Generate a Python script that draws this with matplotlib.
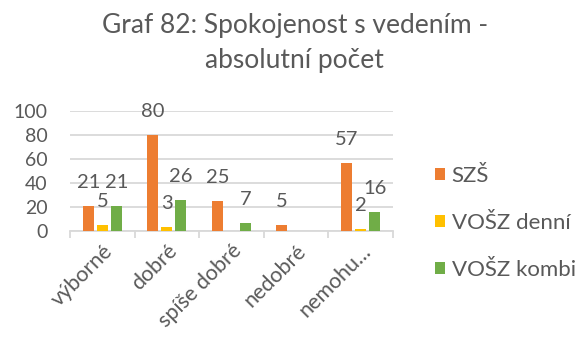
import matplotlib.pyplot as plt
import numpy as np

plt.rcParams['font.family'] = ['Lato', 'DejaVu Sans']

categories = ['výborné', 'dobré', 'spíše dobré', 'nedobré', 'nemohu...']
series_names = ['SZŠ', 'VOŠZ denní', 'VOŠZ kombi']
szs = [21, 80, 25, 5, 57]
vosz_denni = [5, 3, 0, 0, 2]
vosz_kombi = [21, 26, 7, 0, 16]
colors = ['#ED7D31', '#FFC000', '#70AD47']
text_color = '#595959'

fig = plt.figure(figsize=(5.76, 3.41), dpi=100)
ax = fig.add_axes([0.1215, 0.3226, 0.5605, 0.352])

x = np.arange(len(categories))
width = 0.17
offsets = [-0.217, 0, 0.217]
for vals, name, col, off in zip([szs, vosz_denni, vosz_kombi], series_names, colors, offsets):
    bars = ax.bar(x + off, vals, width, color=col, label=name, zorder=3)
    for b, v in zip(bars, vals):
        if v == 0:
            continue
        ax.annotate(str(v), (b.get_x() + b.get_width() / 2, v),
                    xytext=(0, 13), textcoords='offset points',
                    ha='center', va='baseline', fontsize=14.5, color=text_color)

ax.set_xlim(-0.5, len(categories) - 0.5)
ax.set_ylim(0, 100)
ax.set_yticks(range(0, 101, 20))
ax.yaxis.grid(True, color='#D9D9D9', linewidth=1.3, zorder=0)
ax.set_axisbelow(True)
for s in ['left', 'right', 'top']:
    ax.spines[s].set_visible(False)
ax.spines['bottom'].set_color('#D9D9D9')
ax.spines['bottom'].set_linewidth(1.3)
ax.tick_params(axis='y', length=0, labelsize=14, labelcolor=text_color, pad=16)

# category boundary ticks on the x axis
ax.set_xticks(np.arange(-0.5, len(categories), 1.0))
ax.set_xticklabels([])
ax.tick_params(axis='x', which='major', length=5, color='#D9D9D9', width=1.3)
ax.set_xticks(x, minor=True)
ax.set_xticklabels(categories, minor=True, rotation=45, ha='right',
                   rotation_mode='anchor', fontsize=15.5, color=text_color)
ax.tick_params(axis='x', which='minor', length=0, pad=7)

# two-line title
fig.text(0.512, 0.903, 'Graf 82: Spokojenost s vedením -', ha='center', va='baseline',
         fontsize=19, color=text_color)
fig.text(0.512, 0.801, 'absolutní počet', ha='center', va='baseline',
         fontsize=19, color=text_color)

ax.legend(loc='center left', bbox_to_anchor=(0.755, 0.346), bbox_transform=fig.transFigure,
          frameon=False, fontsize=16, labelcolor=text_color, handlelength=0.45,
          handleheight=0.45, handletextpad=0.3, labelspacing=1.2, borderpad=0,
          borderaxespad=0)

fig.savefig('out.png', dpi=100)
